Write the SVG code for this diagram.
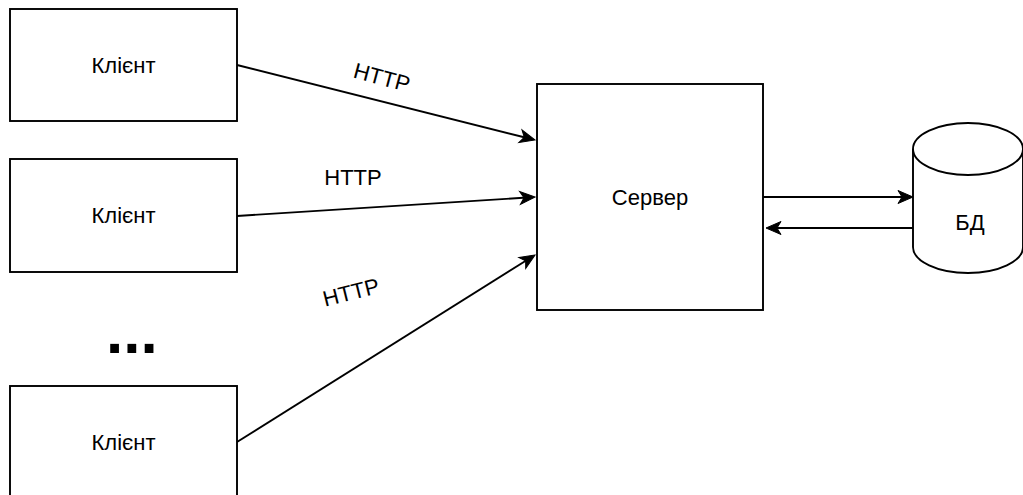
<svg xmlns="http://www.w3.org/2000/svg" width="1023" height="495" viewBox="0 0 1023 495">
  <style>
    .box { fill: #ffffff; stroke: #000000; stroke-width: 1.9; }
    .lbl { font-family: "Liberation Sans", Arial, Helvetica, sans-serif; font-size: 22px; fill: #000000; text-anchor: middle; }
    .edge { fill: none; stroke: #000000; stroke-width: 1.9; marker-end: url(#arrow); }
  </style>
  <defs>
    <!-- classic arrowhead; tip sits 8px past the path end -->
    <marker id="arrow" viewBox="-8 -7 17 14" markerWidth="17" markerHeight="14" refX="0" refY="0" orient="auto" markerUnits="userSpaceOnUse" overflow="visible">
      <path d="M8,0 L-7,-6.5 L-3,0 L-7,6.5 Z" fill="#000000" stroke="#000000" stroke-width="1" stroke-linejoin="miter"/>
    </marker>
  </defs>

  <rect width="1023" height="495" fill="#ffffff"/>

  <g id="connectors">
    <path class="edge" d="M237,65 L527.2,138"/>
    <path class="edge" d="M237,216 L527,197.5"/>
    <path class="edge" d="M237,442 L528.2,259.3"/>
    <path class="edge" d="M763,197 L905,197"/>
    <path class="edge" d="M913,228 L774,228"/>
    <text class="lbl" x="382" y="85" transform="rotate(15 382 77)">HTTP</text>
    <text class="lbl" x="353" y="185">HTTP</text>
    <text class="lbl" x="351" y="300" transform="rotate(-14 351 292)">HTTP</text>
  </g>

  <g id="client1">
    <rect class="box" x="10" y="9" width="227" height="112"/>
    <text class="lbl" x="123.5" y="73">Клієнт</text>
  </g>

  <g id="client2">
    <rect class="box" x="10" y="159" width="227" height="113"/>
    <text class="lbl" x="123.5" y="223">Клієнт</text>
  </g>

  <g id="ellipsis">
    <text x="106" y="353" font-family="'Liberation Sans', Arial, sans-serif" font-size="62" font-weight="bold" fill="#000000">...</text>
  </g>

  <g id="client3">
    <rect class="box" x="10" y="386" width="227" height="112"/>
    <text class="lbl" x="123.5" y="450">Клієнт</text>
  </g>

  <g id="server">
    <rect class="box" x="537" y="84" width="226" height="226"/>
    <text class="lbl" x="650" y="205">Сервер</text>
  </g>

  <g id="database">
    <path class="box" d="M913,149 A55,26 0 0,1 1023,149 L1023,247 A55,26 0 0,1 913,247 Z"/>
    <path class="box" fill="none" d="M913,149 A55,26 0 0,0 1023,149"/>
    <text class="lbl" x="970" y="230">БД</text>
  </g>
</svg>
